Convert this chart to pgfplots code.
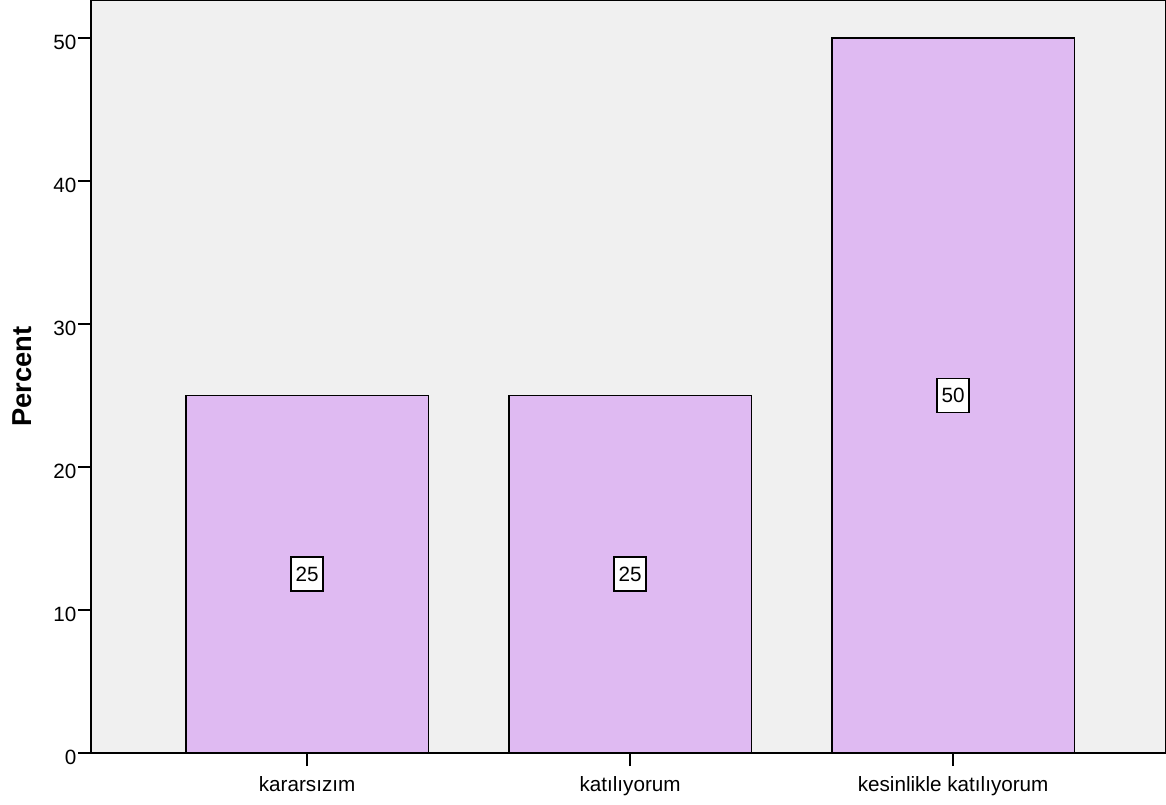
\documentclass[border=0pt]{standalone}
\usepackage{fontspec}
\setmainfont{Liberation Sans}
\usepackage{pgfplots}
\pgfplotsset{compat=1.18}
\definecolor{bgcol}{RGB}{240,240,240}
\definecolor{barcol}{RGB}{223,186,242}
\begin{document}
\begin{tikzpicture}
\begin{axis}[
 scale only axis, width=806.25pt, height=564.75pt,
 xmin=-0.669, xmax=2.659, ymin=0, ymax=52.66,
 axis background/.style={fill=bgcol},
 axis line style={line width=1.3pt},
 xtick={0,1,2}, xticklabels={kararsızım, katılıyorum, kesinlikle katılıyorum},
 ytick={0,10,...,50},
 tick align=outside, xtick pos=bottom, ytick pos=left,
 major tick length=9.75pt,
 tick style={line width=1.5pt, black},
 ticklabel style={font=\fontsize{15.5}{18}\selectfont},
 /pgf/number format/assume math mode=true,
 yticklabel style={inner sep=0pt, xshift=-1pt, yshift=-3pt},
 xticklabel style={inner sep=0pt, yshift=-7.5pt},
 ylabel={Percent},
 every axis y label/.style={at={(axis description cs:0,0.5)}, xshift=-51.75pt, rotate=90, anchor=center, font=\fontsize{20.5}{24}\selectfont\bfseries},
 clip=false,
]
\addplot[ybar, bar width=0.75, fill=barcol, draw=black, line width=1pt] coordinates {(0,25) (1,25) (2,50)};
\addplot[only marks, mark=none, nodes near coords, point meta=explicit symbolic,
  every node near coord/.append style={anchor=center, draw=black, fill=white, line width=1.2pt, inner sep=0pt, minimum width=24pt, minimum height=25.5pt, font=\fontsize{15.5}{18}\selectfont}]
  coordinates {(0,12.5)[25] (1,12.5)[25] (2,25)[50]};
\end{axis}
\pgfresetboundingbox
\useasboundingbox (-68.25pt,-38.25pt) rectangle (806.25pt,564.75pt);
\end{tikzpicture}
\end{document}
